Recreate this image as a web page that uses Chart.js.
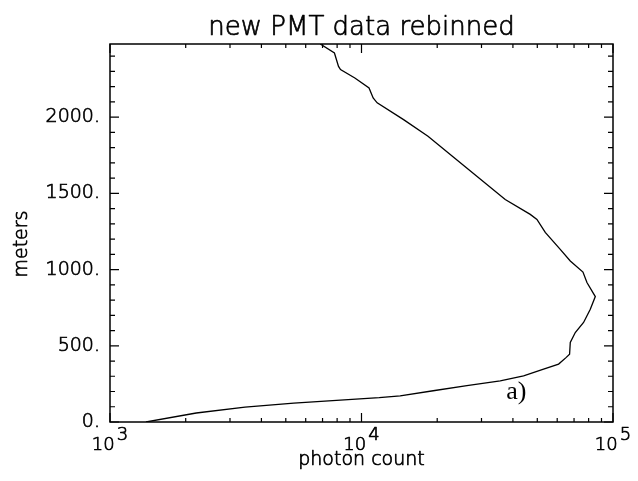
<!DOCTYPE html>
<html>
<head>
<meta charset="utf-8">
<script src="https://cdn.jsdelivr.net/npm/chart.js@4.4.1/dist/chart.umd.min.js"></script>
<style>
  html, body { margin: 0; padding: 0; background: #fff; }
  canvas { display: block; }
</style>
</head>
<body>
<canvas id="pmt" width="638" height="481"></canvas>
<script>
// rebinned PMT profile, from the ground up
const photonCount = [1390, 2203, 3442, 5380, 11760, 14250, 19280, 26250, 35610, 44100,
    52960, 60780, 65200, 67200, 67630, 70800, 76380, 81230, 85050, 78780,
    75960, 67630, 61700, 53780, 49840, 46880, 37280, 22980, 18380, 14700,
    11543, 11125, 10715, 9409, 8252, 8102, 7805, 6855];
const heightM = [0, 59, 98, 124, 160, 172, 205, 238, 270, 303,
    347, 380, 424, 445, 522, 587, 653, 740, 823, 915,
    984, 1056, 1133, 1244, 1329, 1362, 1460, 1744, 1875, 1984,
    2094, 2126, 2192, 2257, 2312, 2333, 2421, 2480];

const xDecades = [3, 4, 5];
const yMajorTicks = [0, 500, 1000, 1500, 2000];
const yMinorStep = 100;
const yMax = 2480;

const chartTitle = 'new PMT data rebinned';
const xTitle = 'photon count';
const yTitle = 'meters';
const curveLabel = 'a)';
const curveLabelAt = { x: 37600, y: 150 };

const labelFont = '"DejaVu Sans", sans-serif';
const thin = '200 ';
const inkWidth = 0.7;

function profilePoints() {
    let pts = new Array();
    for (let i = 0; i < photonCount.length; i++) {
        pts.push({ x: photonCount[i], y: heightM[i] });
    }
    return pts;
}

// thin font plus a hairline stroke so the text stays black
function inkText(ctx, text, x, y) {
    ctx.fillText(text, x, y);
    ctx.strokeText(text, x, y);
}

// IDL-style frame: closed box, inward ticks on all four sides, superscript decades
const idlFrame = {
    id: 'idlFrame',
    afterDraw(chart) {
        const ctx = chart.ctx;
        const a = chart.chartArea;
        const xs = chart.scales.x;
        const ys = chart.scales.y;
        ctx.save();
        ctx.strokeStyle = '#000';
        ctx.fillStyle = '#000';

        ctx.lineWidth = 1.5;
        ctx.strokeRect(a.left, a.top, a.right - a.left, a.bottom - a.top);

        ctx.lineWidth = 1.2;
        ctx.beginPath();
        for (let v = 0; v <= yMax; v += yMinorStep) {
            const py = ys.getPixelForValue(v);
            const len = yMajorTicks.includes(v) ? 9 : 5;
            ctx.moveTo(a.left, py); ctx.lineTo(a.left + len, py);
            ctx.moveTo(a.right, py); ctx.lineTo(a.right - len, py);
        }
        for (let i = 0; i < xDecades.length; i++) {
            const base = Math.pow(10, xDecades[i]);
            for (let k = 1; k < 10; k++) {
                const val = k * base;
                if (val > xs.max) break;
                const px = xs.getPixelForValue(val);
                const len = k === 1 ? 9 : 4;
                ctx.moveTo(px, a.bottom); ctx.lineTo(px, a.bottom - len);
                ctx.moveTo(px, a.top); ctx.lineTo(px, a.top + len);
            }
        }
        ctx.stroke();

        ctx.lineWidth = inkWidth;
        ctx.lineJoin = 'round';

        // decade labels 10^n
        ctx.font = thin + '18px ' + labelFont;
        ctx.textBaseline = 'alphabetic';
        ctx.textAlign = 'left';
        for (let i = 0; i < xDecades.length; i++) {
            const px = xs.getPixelForValue(Math.pow(10, xDecades[i]));
            const exp = String(xDecades[i]);
            const w1 = ctx.measureText('10').width;
            const w2 = ctx.measureText(exp).width;
            const x0 = px - (w1 + w2 + 2) / 2;
            inkText(ctx, '10', x0, a.bottom + 28);
            inkText(ctx, exp, x0 + w1 + 2, a.bottom + 18);
        }

        ctx.font = thin + '19px ' + labelFont;
        ctx.textAlign = 'center';
        const cx = (a.left + a.right) / 2;
        inkText(ctx, xTitle, cx, a.bottom + 43);

        ctx.save();
        ctx.translate(27, (a.top + a.bottom) / 2 + 11);
        ctx.rotate(-Math.PI / 2);
        inkText(ctx, yTitle, 0, 0);
        ctx.restore();

        ctx.font = thin + '26px ' + labelFont;
        inkText(ctx, chartTitle, cx, a.top - 9);

        ctx.font = '26px "Liberation Serif", serif';
        ctx.textAlign = 'left';
        ctx.fillText(curveLabel, xs.getPixelForValue(curveLabelAt.x), ys.getPixelForValue(curveLabelAt.y));
        ctx.restore();
    }
};

new Chart(document.getElementById('pmt'), {
    type: 'line',
    data: {
        datasets: [{
            data: profilePoints(),
            borderColor: '#000',
            borderWidth: 1.3,
            pointRadius: 0,
            tension: 0,
            fill: false
        }]
    },
    options: {
        responsive: false,
        animation: false,
        devicePixelRatio: 1,
        layout: { padding: { top: 44, right: 25, left: 0, bottom: 0 } },
        plugins: {
            legend: { display: false },
            tooltip: { enabled: false },
            title: { display: false }
        },
        scales: {
            x: {
                type: 'logarithmic',
                min: 1000,
                max: 100000,
                grid: { display: false, drawTicks: false },
                border: { display: false },
                ticks: { display: false },
                afterFit: (s) => { s.height = 59; }
            },
            y: {
                type: 'linear',
                min: 0,
                max: yMax,
                grid: { display: false, drawTicks: false },
                border: { display: false },
                afterBuildTicks: (s) => { s.ticks = yMajorTicks.map((v) => ({ value: v })); },
                ticks: {
                    autoSkip: false,
                    padding: 10,
                    color: '#000',
                    textStrokeColor: '#000',
                    textStrokeWidth: inkWidth,
                    font: { family: labelFont, size: 19, weight: '200' },
                    callback: (v) => v + '.'
                },
                afterFit: (s) => { s.width = 110; }
            }
        }
    },
    plugins: [idlFrame]
});
</script>
</body>
</html>
